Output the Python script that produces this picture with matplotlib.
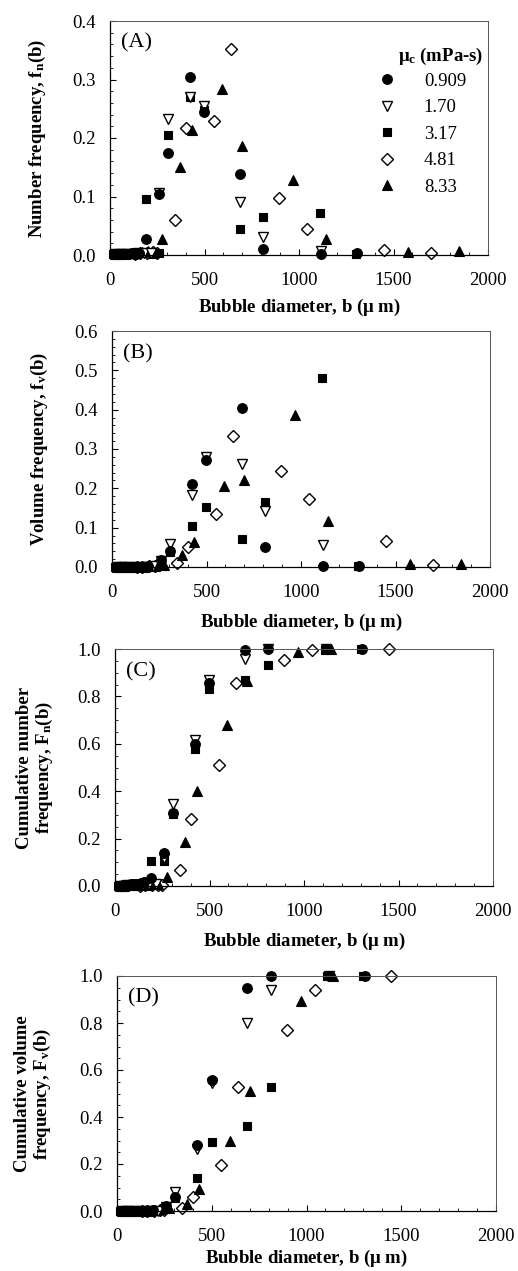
import numpy as np
import matplotlib
matplotlib.use("Agg")
import matplotlib.pyplot as plt
from matplotlib.ticker import MultipleLocator
from matplotlib.lines import Line2D

plt.rcParams['font.family'] = ['Liberation Serif', 'DejaVu Serif']
plt.rcParams['mathtext.fontset'] = 'custom'
plt.rcParams['mathtext.rm'] = 'Liberation Serif'
plt.rcParams['mathtext.bf'] = 'Liberation Serif:bold'
plt.rcParams['mathtext.it'] = 'Liberation Serif:italic'

nan = np.nan

# ---- data ----
legend_title = r"$\mathbf{\mu_c}$ (mPa-s)"
labels = ["0.909", "1.70", "3.17", "4.81", "8.33"]

# mu_c = 0.909 (filled circle)
x_909 = [20, 30, 40, 50, 60, 72, 85, 100, 115, 135, 155, 188, 261, 308, 421, 499, 687, 812, 1119, 1309]
fn_909 = [0.001, 0.002, 0.001, 0.002, 0.002, 0.001, 0.002, 0.002, 0.003, 0.002, 0.003, 0.027, 0.104, 0.174, 0.304, 0.244, 0.138, 0.011, 0.002, 0.003]
fv_909 = [0.000, 0.000, 0.000, 0.000, 0.000, 0.000, 0.000, 0.000, 0.001, 0.001, 0.001, 0.002, 0.019, 0.040, 0.212, 0.273, 0.404, 0.051, 0.003, 0.003]
Fn_909 = [0.001, 0.002, 0.003, 0.004, 0.005, 0.006, 0.007, 0.008, 0.010, 0.012, 0.015, 0.032, 0.140, 0.307, 0.600, 0.856, 0.994, 1.000, 1.000, 1.000]
Fv_909 = [0.000, 0.000, 0.000, 0.000, 0.000, 0.000, 0.000, 0.000, 0.001, 0.001, 0.002, 0.003, 0.022, 0.060, 0.280, 0.557, 0.950, 1.000, 1.000, 1.000]

# mu_c = 1.70 (open down triangle)
x_170 = [25, 45, 65, 90, 120, 150, 180, 215, 261, 308, 421, 499, 687, 812, 1119]
fn_170 = [0.001, 0.001, 0.002, 0.002, 0.002, 0.003, 0.003, 0.004, 0.106, 0.233, 0.270, 0.255, 0.091, 0.031, 0.007]
fv_170 = [0.000, 0.000, 0.000, 0.000, 0.000, 0.001, 0.001, 0.002, 0.015, 0.058, 0.184, 0.279, 0.262, 0.143, 0.057]
Fn_170 = [0.001, 0.002, 0.003, 0.004, 0.005, 0.006, 0.007, 0.008, 0.120, 0.347, 0.617, 0.870, 0.958, 1.000, 1.000]
Fv_170 = [0.000, 0.000, 0.000, 0.000, 0.000, 0.001, 0.001, 0.002, 0.018, 0.079, 0.262, 0.543, 0.800, 0.940, 1.000]

# mu_c = 3.17 (filled square)
x_317 = [18, 28, 38, 52, 66, 80, 95, 112, 130, 150, 188, 261, 305, 421, 499, 687, 812, 1110, 1300]
fn_317 = [0.001, 0.001, 0.002, 0.002, 0.002, 0.003, 0.002, 0.003, 0.003, 0.004, 0.096, 0.003, 0.205, 0.270, 0.248, 0.044, 0.065, 0.072, 0.002]
fv_317 = [0.000, 0.000, 0.000, 0.000, 0.000, 0.000, 0.000, 0.001, 0.001, 0.001, 0.003, 0.002, 0.038, 0.105, 0.152, 0.072, 0.165, 0.480, 0.003]
Fn_317 = [0.001, 0.002, 0.003, 0.004, 0.005, 0.006, 0.007, 0.008, 0.009, 0.010, 0.106, 0.106, 0.303, 0.579, 0.831, 0.870, 0.934, 0.997, 1.000]
Fv_317 = [0.000, 0.000, 0.000, 0.000, 0.000, 0.000, 0.000, 0.001, 0.001, 0.002, 0.005, 0.010, 0.054, 0.139, 0.292, 0.363, 0.526, 1.000, 1.000]

# mu_c = 4.81 (open diamond)
x_481 = [130, 160, 195, 225, 250, 342, 400, 550, 638, 895, 1043, 1448, 1697]
fn_481 = [0.002, 0.003, 0.004, 0.005, 0.003, 0.059, 0.217, 0.229, 0.352, 0.098, 0.045, 0.009, 0.003]
fv_481 = [0.000, 0.001, 0.002, 0.003, 0.004, 0.010, 0.051, 0.135, 0.334, 0.243, 0.173, 0.065, 0.006]
Fn_481 = [0.002, 0.003, 0.004, 0.005, 0.006, 0.068, 0.282, 0.511, 0.856, 0.955, 0.994, 1.000, nan]
Fv_481 = [0.000, 0.001, 0.002, 0.003, 0.004, 0.011, 0.061, 0.196, 0.529, 0.770, 0.940, 1.000, nan]

# mu_c = 8.33 (filled triangle)
x_833 = [25, 50, 80, 110, 140, 170, 200, 230, 273, 370, 432, 595, 700, 969, 1142, 1577, 1847]
fn_833 = [0.001, 0.002, 0.002, 0.003, 0.003, 0.005, 0.006, 0.004, 0.027, 0.151, 0.213, 0.283, 0.187, 0.129, 0.027, 0.005, 0.006]
fv_833 = [0.000, 0.000, 0.000, 0.000, 0.001, 0.001, 0.002, 0.003, 0.005, 0.030, 0.063, 0.207, 0.220, 0.387, 0.116, 0.008, 0.008]
Fn_833 = [0.001, 0.002, 0.003, 0.004, 0.005, 0.006, 0.008, 0.010, 0.037, 0.186, 0.399, 0.680, 0.863, 0.986, 1.000, nan, nan]
Fv_833 = [0.000, 0.000, 0.000, 0.000, 0.001, 0.002, 0.004, 0.007, 0.012, 0.030, 0.092, 0.298, 0.511, 0.894, 1.000, nan, nan]

xs = [x_481, x_833, x_317, x_170, x_909]
panel_data = {
    'A': [fn_481, fn_833, fn_317, fn_170, fn_909],
    'B': [fv_481, fv_833, fv_317, fv_170, fv_909],
    'C': [Fn_481, Fn_833, Fn_317, Fn_170, Fn_909],
    'D': [Fv_481, Fv_833, Fv_317, Fv_170, Fv_909],
}
# styles in same order as xs: diamond, triangle, square, down-tri, circle
styles = [
    dict(marker='D', ms=6.0, mfc='white', mec='black', mew=1.0),
    dict(marker='^', ms=7.0, mfc='black', mec='black', mew=0.8),
    dict(marker='s', ms=6.2, mfc='black', mec='black', mew=0.8),
    dict(marker='v', ms=7.0, mfc='white', mec='black', mew=1.0),
    dict(marker='o', ms=7.0, mfc='black', mec='black', mew=0.8),
]
legend_order = [4, 3, 2, 0, 1]

fig = plt.figure(figsize=(5.18, 12.71), dpi=100)
W, H = 518, 1271
boxes = {  # left, top, right, bottom in pixels
    'A': (110, 21, 488, 255),
    'B': (112, 331, 490, 567),
    'C': (115, 649, 493, 886),
    'D': (117, 976, 496, 1211),
}
ylims = {'A': 0.4, 'B': 0.6, 'C': 1.0, 'D': 1.0}
ymaj = {'A': 0.1, 'B': 0.1, 'C': 0.2, 'D': 0.2}
ymin = {'A': 0.02, 'B': 0.02, 'C': 0.05, 'D': 0.05}
ylabels = {
    'A': r"Number frequency, $\mathbf{f_n}$(b)",
    'B': r"Volume frequency, $\mathbf{f_v}$(b)",
    'C': "Cumulative number\n" + r"frequency, $\mathbf{F_n}$(b)",
    'D': "Cumulative volume\n" + r"frequency, $\mathbf{F_v}$(b)",
}
ylab_x = {'A': -0.165, 'B': -0.165, 'C': -0.159, 'D': -0.169}
xlab_y = {'A': -0.18, 'B': -0.19, 'C': -0.19, 'D': -0.155}

FS = 13.5
for key, (l, t, r, b) in boxes.items():
    ax = fig.add_axes([l / W, 1 - b / H, (r - l) / W, (b - t) / H])
    for x, y, st in zip(xs, panel_data[key], styles):
        ax.plot(x, y, linestyle='none', clip_on=False, **st)
    ax.set_xlim(0, 2000)
    ax.set_ylim(0, ylims[key])
    ax.xaxis.set_major_locator(MultipleLocator(500))
    ax.xaxis.set_minor_locator(MultipleLocator(100))
    ax.yaxis.set_major_locator(MultipleLocator(ymaj[key]))
    ax.yaxis.set_minor_locator(MultipleLocator(ymin[key]))
    ax.yaxis.set_major_formatter(plt.FuncFormatter(lambda v, p: f"{v:.1f}"))
    ax.tick_params(axis='both', which='major', direction='in', length=4, width=0.8,
                   labelsize=FS)
    ax.tick_params(axis='x', which='major', pad=12)
    ax.tick_params(axis='y', which='major', pad=10)
    ax.tick_params(axis='both', which='minor', direction='in', length=2, width=0.6)
    for side, sp in ax.spines.items():
        sp.set_linewidth(0.9 if side in ('left', 'bottom') else 0.7)
        sp.set_color('black' if side in ('left', 'bottom') else '#555555')
    ax.set_xlabel(r"Bubble diameter, b ($\mathbf{\mu}$ m)", fontsize=FS, fontweight='bold')
    ax.set_ylabel(ylabels[key], fontsize=FS, fontweight='bold', linespacing=1.05)
    ax.xaxis.set_label_coords(0.5, xlab_y[key])
    ax.yaxis.set_label_coords(ylab_x[key], 0.5)
    ax.text(0.03, 0.905, f"({key})", transform=ax.transAxes, fontsize=16,
            ha='left', va='center')
    if key == 'A':
        handles = [Line2D([], [], linestyle='none', **styles[i]) for i in legend_order]
        ax.legend(handles, labels, loc='upper right',
                  bbox_to_anchor=(0.942, 0.78), frameon=False, fontsize=FS,
                  borderpad=0, borderaxespad=0,
                  handlelength=1.0, handletextpad=1.45, labelspacing=0.5)
        ax.text(0.987, 0.847, legend_title, transform=ax.transAxes, fontsize=FS,
                fontweight='bold', ha='right', va='center')

fig.savefig("out.png", dpi=100)
